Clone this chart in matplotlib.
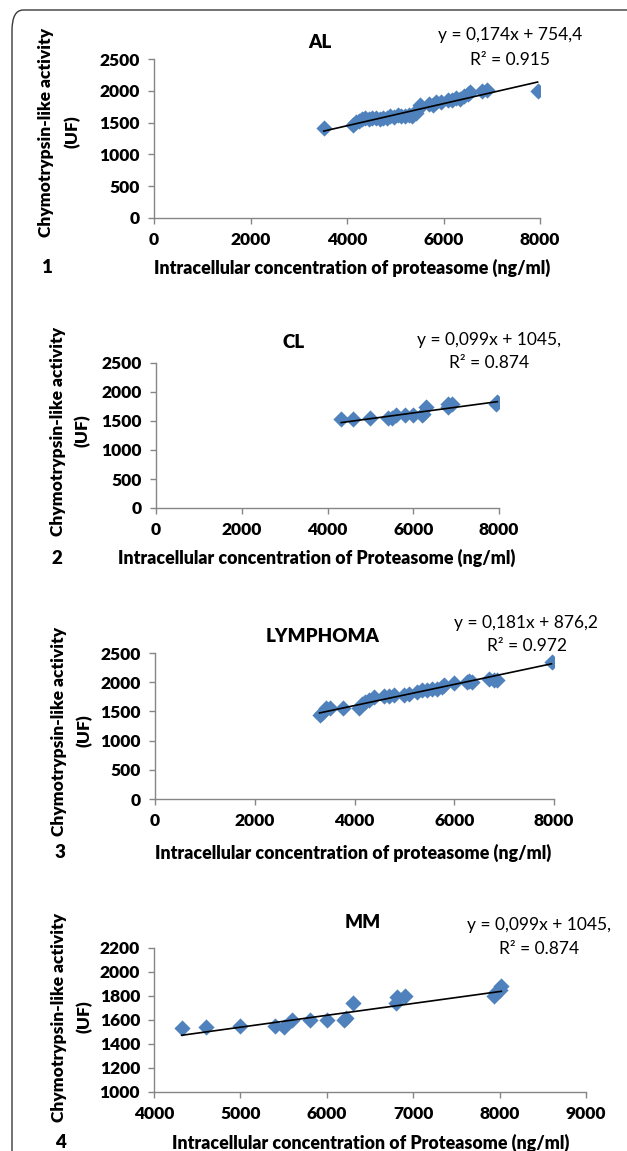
import numpy as np
import matplotlib.pyplot as plt
from matplotlib.patches import FancyBboxPatch

plt.rcParams["font.family"] = ["Lato", "DejaVu Sans"]

W, H = 627, 1151

# AL
al_x = [3520, 4120, 4180, 4250, 4320, 4380, 4450, 4520, 4600, 4680, 4750, 4820, 4900, 4980, 5050, 5120,
        5200, 5280, 5350, 5420, 5480, 5520, 5700, 5780, 5850, 5950, 6100, 6180, 6250, 6350, 6420, 6500,
        6550, 6800, 6900, 7950]
al_y = [1420, 1470, 1510, 1530, 1560, 1570, 1560, 1580, 1570, 1560, 1580, 1570, 1600, 1590, 1620, 1600,
        1610, 1620, 1600, 1650, 1720, 1780, 1800, 1780, 1820, 1830, 1860, 1850, 1880, 1870, 1920, 1950,
        1980, 1990, 2010, 2000]
al_fit = (0.174, 754.4)

# CL
cl_x = [4320, 4600, 5000, 5400, 5500, 5600, 5800, 6000, 6200, 6220, 6300, 6800, 6810, 6900, 7930, 7960]
cl_y = [1535, 1540, 1550, 1550, 1545, 1600, 1600, 1600, 1600, 1620, 1740, 1740, 1790, 1800, 1800, 1830]
cl_fit = (0.099, 1045)

# LYMPHOMA
ly_x = [3300, 3350, 3420, 3500, 3760, 4100, 4150, 4220, 4300, 4400, 4600, 4700, 4800, 5000, 5100, 5250,
        5350, 5450, 5550, 5650, 5750, 5800, 6000, 6250, 6300, 6350, 6700, 6800, 6850, 7950]
ly_y = [1440, 1480, 1550, 1560, 1560, 1560, 1620, 1660, 1700, 1740, 1760, 1760, 1780, 1780, 1800, 1840,
        1860, 1870, 1880, 1890, 1920, 1950, 1980, 2000, 2020, 2010, 2050, 2040, 2030, 2350]
ly_fit = (0.181, 876.2)

# MM
mm_x = [4320, 4600, 5000, 5400, 5500, 5600, 5800, 6000, 6200, 6220, 6300, 6800, 6810, 6900, 7930, 7960,
        8000, 8020]
mm_y = [1535, 1540, 1550, 1550, 1545, 1600, 1600, 1600, 1600, 1620, 1740, 1740, 1790, 1800, 1800, 1830,
        1850, 1880]
mm_fit = (0.099, 1045)

panels = [
    dict(x=al_x, y=al_y, fit=al_fit, title="AL", eq=["y = 0,174x + 754,4", "R² = 0.915"],
         box=(154, 540, 218, 59), xlim=(0, 8000), xt=np.arange(0, 8001, 2000), ylim=(0, 2500),
         yt=np.arange(0, 2501, 500), title_xy=(320, 42), eq_xy=[(510, 35), (510, 60)],
         yl=(46, 72, 132), xl=(352, 268), num=("1", 47, 268),
         xlabel="Intracellular concentration of proteasome (ng/ml)"),
    dict(x=cl_x, y=cl_y, fit=cl_fit, title="CL", eq=["y = 0,099x + 1045,", "R² = 0.874"],
         box=(156, 499, 508, 363), xlim=(0, 8000), xt=np.arange(0, 8001, 2000), ylim=(0, 2500),
         yt=np.arange(0, 2501, 500), title_xy=(294, 343), eq_xy=[(489, 340), (489, 363)],
         yl=(58, 82, 431), xl=(317, 558), num=("2", 57, 558),
         xlabel="Intracellular concentration of Proteasome (ng/ml)"),
    dict(x=ly_x, y=ly_y, fit=ly_fit, title="LYMPHOMA", eq=["y = 0,181x + 876,2", "R² = 0.972"],
         box=(155, 554, 799, 653), xlim=(0, 8000), xt=np.arange(0, 8001, 2000), ylim=(0, 2500),
         yt=np.arange(0, 2501, 500), title_xy=(323, 637), eq_xy=[(526, 623), (527, 646)],
         yl=(59, 84, 731), xl=(353, 853), num=("3", 60, 853),
         xlabel="Intracellular concentration of proteasome (ng/ml)"),
    dict(x=mm_x, y=mm_y, fit=mm_fit, title="MM", eq=["y = 0,099x + 1045,", "R² = 0.874"],
         box=(154, 586, 1092, 948), xlim=(4000, 9000), xt=np.arange(4000, 9001, 1000), ylim=(1000, 2200),
         yt=np.arange(1000, 2201, 200), title_xy=(363, 923), eq_xy=[(539, 925), (539, 949)],
         yl=(59, 84, 1017), xl=(371, 1143), num=("4", 61, 1143),
         xlabel="Intracellular concentration of Proteasome (ng/ml)"),
]

fig = plt.figure(figsize=(W / 100, H / 100), dpi=100)


def ftext(px, py, s, **kw):
    fig.text(px / W, 1 - py / H, s, **kw)


# rounded frame, cut off at right and bottom
frame = FancyBboxPatch((12 / W, 1 - 1200 / H), 700 / W, (1200 - 10) / H,
                       boxstyle="round,pad=0,rounding_size=0.018", transform=fig.transFigure,
                       facecolor="none", edgecolor="#3a3a3a", linewidth=1.0, clip_on=False)
fig.patches.append(frame)

grey = "#868686"
blue = "#4f81bd"
bold = "heavy"
for p in panels:
    l, r, b, t = p["box"]
    ax = fig.add_axes([l / W, 1 - b / H, (r - l) / W, (b - t) / H])
    ax.scatter(p["x"], p["y"], marker="D", s=68, color=blue, linewidths=0, zorder=2)
    xs = np.array([min(p["x"]), max(p["x"])])
    ax.plot(xs, p["fit"][0] * xs + p["fit"][1], color="black", lw=1.2, zorder=3)
    ax.set_xlim(p["xlim"])
    ax.set_ylim(p["ylim"])
    ax.set_xticks(p["xt"])
    ax.set_yticks(p["yt"])
    for s in ["top", "right"]:
        ax.spines[s].set_visible(False)
    for s in ["left", "bottom"]:
        ax.spines[s].set_color(grey)
        ax.spines[s].set_linewidth(1.0)
    ax.tick_params(direction="out", length=4, width=1, color=grey, labelsize=12.5, pad=6)
    for lab in ax.get_xticklabels() + ax.get_yticklabels():
        lab.set_fontweight(bold)
    ax.set_facecolor("none")

    ftext(*p["title_xy"], p["title"], fontsize=13.5, fontweight=bold, ha="center", va="center")
    for s, xy in zip(p["eq"], p["eq_xy"]):
        ftext(*xy, s, fontsize=12.5, ha="center", va="center")
    ftext(p["yl"][0], p["yl"][2], "Chymotrypsin-like activity", fontsize=12.5, fontweight=bold,
          rotation=90, ha="center", va="center")
    ftext(p["yl"][1], p["yl"][2], "(UF)", fontsize=12.5, fontweight=bold,
          rotation=90, ha="center", va="center")
    ftext(*p["xl"], p["xlabel"], fontsize=12.8, fontweight=bold, ha="center", va="center")
    ftext(p["num"][1], p["num"][2], p["num"][0], fontsize=13.5, fontweight=bold, ha="center", va="center")

fig.savefig("out.png", dpi=100)
